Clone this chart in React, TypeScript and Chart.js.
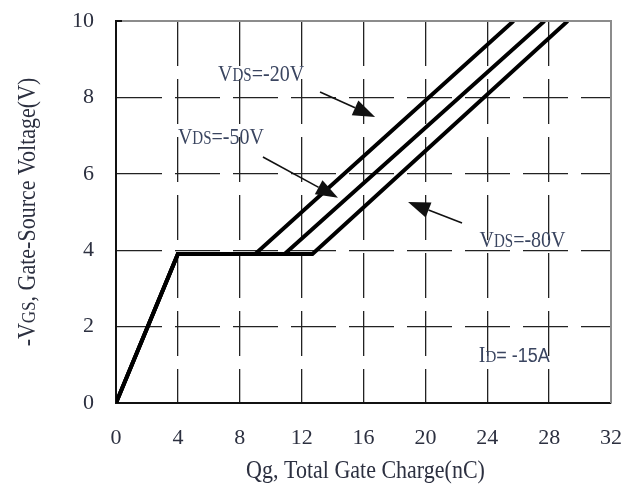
import React, { useEffect, useRef } from "react";
import { Chart, registerables } from "chart.js";

Chart.register(...registerables);

// ---- data (Qg in nC, -VGS in V) ----
const q20 = [0, 4, 9.0, 25.7];
const v20 = [0, 3.9, 3.9, 10];
const q50 = [0, 4, 10.9, 27.7];
const v50 = [0, 3.9, 3.9, 10];
const q80 = [0, 4, 12.7, 29.2];
const v80 = [0, 3.9, 3.9, 10];

const xTickValues = [0, 4, 8, 12, 16, 20, 24, 28, 32];
const yTickValues = [0, 2, 4, 6, 8, 10];

const seriesLabels = ["VDS=-20V", "VDS=-50V", "VDS=-80V"];

// annotation labels (data coordinates)
const labelMain = ["V", "V", "V"];
const labelSub = ["DS", "DS", "DS"];
const labelTail = ["=-20V", "=-50V", "=-80V"];
const labelQ = [6.6, 4.0, 23.5];
const labelV = [8.64, 6.99, 4.29];

// arrows (data coordinates)
const arrowFromQ = [13.19, 9.5, 22.37];
const arrowFromV = [8.14, 6.44, 4.71];
const arrowToQ = [16.75, 14.35, 18.88];
const arrowToV = [7.49, 5.37, 5.26];

const idQ = 23.45;
const idV = 1.28;

const serif = "'Liberation Serif', 'Times New Roman', serif";
const sans = "'Liberation Sans', 'Open Sans', sans-serif";
const textColor = "#2c3040";
const annoColor = "#3a4560";

type Part = { t: string; font: string };

function drawRich(
  ctx: CanvasRenderingContext2D,
  parts: Part[],
  x: number,
  y: number,
  align: "left" | "center",
  vScale = 1
) {
  let total = 0;
  const widths = parts.map((p) => {
    ctx.font = p.font;
    const w = ctx.measureText(p.t).width;
    total += w;
    return w;
  });
  let cx = align === "center" ? -total / 2 : 0;
  ctx.save();
  ctx.translate(x, y);
  ctx.scale(1, vScale);
  ctx.textAlign = "left";
  ctx.textBaseline = "alphabetic";
  parts.forEach((p, i) => {
    ctx.font = p.font;
    ctx.fillText(p.t, cx, 0);
    cx += widths[i];
  });
  ctx.restore();
}

const overlayPlugin = {
  id: "overlay",
  afterDatasetsDraw(chart: any) {
    const { ctx, chartArea, scales } = chart;
    const xs = scales.x;
    const ys = scales.y;
    ctx.save();
    // top and right frame
    ctx.strokeStyle = "#8c8c8c";
    ctx.lineWidth = 2;
    ctx.beginPath();
    ctx.moveTo(chartArea.left, chartArea.top);
    ctx.lineTo(chartArea.right, chartArea.top);
    ctx.lineTo(chartArea.right, chartArea.bottom);
    ctx.stroke();
    ctx.strokeStyle = "#111";
    ctx.beginPath();
    ctx.moveTo(chartArea.left, chartArea.top);
    ctx.lineTo(chartArea.left + 6, chartArea.top);
    ctx.stroke();

    // arrows
    ctx.strokeStyle = "#111";
    ctx.fillStyle = "#111";
    for (let i = 0; i < arrowFromQ.length; i++) {
      const x1 = xs.getPixelForValue(arrowFromQ[i]);
      const y1 = ys.getPixelForValue(arrowFromV[i]);
      const x2 = xs.getPixelForValue(arrowToQ[i]);
      const y2 = ys.getPixelForValue(arrowToV[i]);
      const ang = Math.atan2(y2 - y1, x2 - x1);
      const len = 22;
      const hw = 8;
      const bx = x2 - len * Math.cos(ang);
      const by = y2 - len * Math.sin(ang);
      ctx.lineWidth = 1.6;
      ctx.beginPath();
      ctx.moveTo(x1, y1);
      ctx.lineTo(bx, by);
      ctx.stroke();
      ctx.beginPath();
      ctx.moveTo(x2, y2);
      ctx.lineTo(bx + hw * Math.sin(ang), by - hw * Math.cos(ang));
      ctx.lineTo(bx - hw * Math.sin(ang), by + hw * Math.cos(ang));
      ctx.closePath();
      ctx.fill();
    }

    // labels
    ctx.fillStyle = annoColor;
    for (let i = 0; i < labelQ.length; i++) {
      const x = xs.getPixelForValue(labelQ[i]);
      const y = ys.getPixelForValue(labelV[i]) + 8;
      drawRich(
        ctx,
        [
          { t: labelMain[i], font: `20px ${serif}` },
          { t: labelSub[i], font: `15px ${serif}` },
          { t: labelTail[i], font: `20px ${serif}` },
        ],
        x,
        y,
        "left",
        1.2
      );
    }
    {
      const x = xs.getPixelForValue(idQ);
      const y = ys.getPixelForValue(idV) + 8;
      drawRich(
        ctx,
        [
          { t: "I", font: `20px ${serif}` },
          { t: "D", font: `15px ${serif}` },
          { t: "= -15A", font: `18px ${sans}` },
        ],
        x,
        y,
        "left",
        1.15
      );
    }

    // axis titles
    ctx.fillStyle = textColor;
    drawRich(
      ctx,
      [{ t: "Qg, Total Gate Charge(nC)", font: `22px ${serif}` }],
      (chartArea.left + chartArea.right) / 2 + 2,
      478,
      "center",
      1.15
    );
    ctx.save();
    ctx.translate(35, (chartArea.top + chartArea.bottom) / 2);
    ctx.rotate(-Math.PI / 2);
    ctx.scale(1, 1.15);
    drawRich(
      ctx,
      [
        { t: "-V", font: `22px ${serif}` },
        { t: "GS", font: `17px ${serif}` },
        { t: ", Gate-Source Voltage(V)", font: `22px ${serif}` },
      ],
      0,
      0,
      "center"
    );
    ctx.restore();
    ctx.restore();
  },
};

function toPoints(q: number[], v: number[]) {
  return q.map((x, i) => ({ x, y: v[i] }));
}

export default function App() {
  const ref = useRef<HTMLCanvasElement | null>(null);
  useEffect(() => {
    document.body.style.margin = "0";
    const canvas = ref.current!;
    const series = [toPoints(q20, v20), toPoints(q50, v50), toPoints(q80, v80)];
    const chart = new Chart(canvas, {
      type: "line",
      data: {
        datasets: series.map((d, i) => ({
          label: seriesLabels[i],
          data: d,
          borderColor: "#000",
          borderWidth: 3.9,
          pointRadius: 0,
          fill: false,
          tension: 0,
          borderJoinStyle: "miter" as const,
        })),
      },
      options: {
        responsive: false,
        animation: false,
        layout: { padding: { top: 21, right: 17, left: 0, bottom: 0 } },
        plugins: { legend: { display: false }, tooltip: { enabled: false }, title: { display: false } },
        scales: {
          x: {
            type: "linear",
            min: 0,
            max: 32,
            afterBuildTicks: (s: any) => {
              s.ticks = xTickValues.map((v) => ({ value: v }));
            },
            afterFit: (s: any) => {
              s.height = 85;
              s.paddingLeft = 0;
              s.paddingRight = 0;
              s.paddingTop = 0;
              s.paddingBottom = 0;
            },
            ticks: {
              padding: 22,
              color: textColor,
              font: { family: serif, size: 22 },
              maxRotation: 0,
            },
            grid: {
              drawTicks: false,
              color: (c: any) => (c.tick && c.tick.value === 32 ? "rgba(0,0,0,0)" : "#222"),
              lineWidth: 1.3,
            },
            border: { display: true, color: "#111", width: 2, dash: [45, 13], dashOffset: 0 },
          },
          y: {
            type: "linear",
            min: 0,
            max: 10,
            afterBuildTicks: (s: any) => {
              s.ticks = yTickValues.map((v) => ({ value: v }));
            },
            afterFit: (s: any) => {
              s.width = 116;
              s.paddingLeft = 0;
              s.paddingRight = 0;
              s.paddingTop = 0;
              s.paddingBottom = 0;
            },
            ticks: {
              padding: 22,
              color: textColor,
              font: { family: serif, size: 22 },
            },
            grid: {
              drawTicks: false,
              color: (c: any) => (c.tick && c.tick.value === 10 ? "rgba(0,0,0,0)" : "#222"),
              lineWidth: 1.3,
            },
            border: { display: true, color: "#111", width: 2, dash: [45, 13], dashOffset: 0 },
          },
        },
      },
      plugins: [overlayPlugin],
    });
    return () => chart.destroy();
  }, []);
  return (
    <div style={{ width: 628, height: 488, background: "#fff" }}>
      <canvas ref={ref} width={628} height={488} style={{ display: "block" }} />
    </div>
  );
}
